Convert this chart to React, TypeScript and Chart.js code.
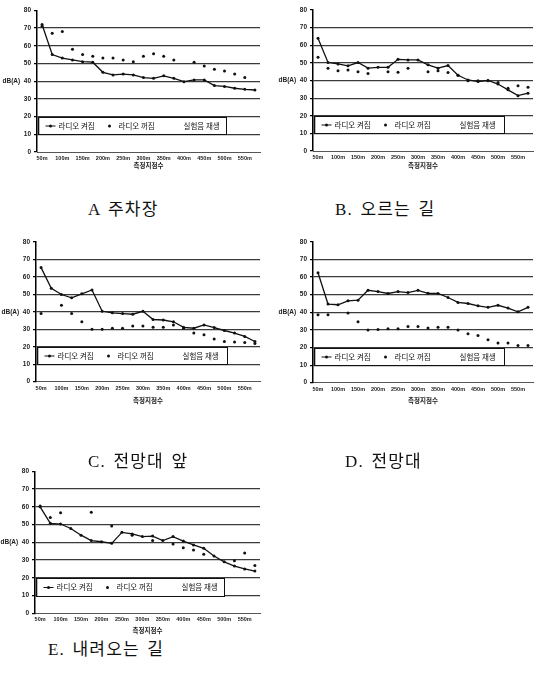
import React, { useEffect, useRef } from "react";
import { Chart, registerables } from "chart.js";
Chart.register(...registerables);

// ---- data ----
const xLabels = [
  "50m", "75m", "100m", "125m", "150m", "175m", "200m", "225m", "250m", "275m", "300m",
  "325m", "350m", "375m", "400m", "425m", "450m", "475m", "500m", "525m", "550m", "575m",
];
const yTickValues = [0, 10, 20, 30, 40, 50, 60, 70, 80];

const legendOn = "라디오 켜짐";
const legendOff = "라디오 꺼짐";
const legendThird = "실험음 재생";
const xTitle = "측정지점수";
const yTitle = "dB(A)";

const aOn = [72, 55, 53, 52, 51, 50.7, 45, 43.5, 44, 43.5, 42, 41.6, 43, 41.6, 39.7, 40.7, 40.7, 37.5, 37, 36, 35.4, 35];
const aOff = [71, 67, 68, 58, 55, 54, 53, 53, 52, 51, 54, 55.4, 54, 52, null, 50.7, 48.6, 46.7, 45.8, 44, 42, null];

const bOn = [64, 50.2, 49.4, 48.3, 50.2, 47, 47.5, 47.5, 52, 51.7, 51.7, 48.9, 47, 48.5, 43, 40.3, 39.4, 40, 38, 34.7, 31.4, 32.8];
const bOff = [53.2, 47, 45.6, 46, 45, 44, null, 45, 44.7, 47, null, 45, 45.5, 44.5, 43, 39.8, 39.8, 39.8, 38.8, 35.6, 37, 36.2];

const cOn = [65.3, 53.5, 49.9, 48, 50.3, 52.5, 40.3, 39.4, 39, 38.6, 40.3, 35.6, 35.3, 34.3, 31.1, 30.6, 32.5, 31, 29.3, 27.8, 25.9, 23];
const cOff = [39, null, 43.7, 39, 34.3, 30, 30, 30.6, 30.6, 31.9, 31.9, 31.1, 31.1, 32.5, 30.6, 27.8, 26.8, 24.4, 23, 22.7, 22.5, 21.8];

const dOn = [62.5, 44.7, 44.3, 46.5, 46.9, 52.5, 51.8, 50.7, 51.8, 51.2, 52.5, 50.8, 50.7, 48.4, 45.6, 45, 43.7, 42.8, 44, 42.4, 40.3, 42.8];
const dOff = [38.6, 38.6, null, 39.6, 34.7, 30, 30.2, 30.6, 30.6, 32, 32, 31.1, 31.5, 31.5, 30, 27.8, 26.8, 24.4, 22.5, 22.5, 21.2, 21.2];

const eOn = [60, 50.7, 50.3, 47.8, 44, 41, 40.3, 39.4, 45.6, 44.7, 43.2, 43.5, 41, 43.2, 40.7, 38.5, 36.6, 32.3, 29, 26.6, 25, 23.8];
const eOff = [60.4, 54, 56.7, null, null, 57, null, 49.2, null, 44, null, 41, null, 39, 37, 35.6, 33.2, null, null, 29.6, 34, 27];

const panelTitles = ["A 주차장", "B. 오르는 길", "C. 전망대 앞", "D. 전망대", "E. 내려오는 길"];

type Box = {
  left: number; top: number; w: number; h: number;
  axisX: number; right: number; y80: number; y0: number; legendW: number;
};

function Panel({ on, off, box }: { on: (number | null)[]; off: (number | null)[]; box: Box }) {
  const ref = useRef<HTMLCanvasElement>(null);
  useEffect(() => {
    const canvas = ref.current!;
    const legendPlugin = {
      id: "boxLegend",
      afterDraw(chart: any) {
        const { ctx, chartArea, scales } = chart;
        const y = scales.y;
        const top = Math.round(y.getPixelForValue(20)) + 0.5;
        const bot = Math.round(y.getPixelForValue(10)) + 0.5;
        const x0 = Math.round(chartArea.left) + 1.5;
        const w = box.legendW;
        const mid = (top + bot) / 2;
        ctx.save();
        ctx.fillStyle = "#fff";
        ctx.fillRect(x0, top, w, bot - top);
        ctx.strokeStyle = "#111";
        ctx.lineWidth = 1;
        ctx.strokeRect(x0, top, w, bot - top);
        ctx.lineWidth = 1.6;
        ctx.beginPath();
        ctx.moveTo(x0, top);
        ctx.lineTo(x0, bot);
        ctx.stroke();
        ctx.lineWidth = 1;
        ctx.beginPath();
        ctx.moveTo(x0 + 7, mid);
        ctx.lineTo(x0 + 17, mid);
        ctx.stroke();
        ctx.fillStyle = "#111";
        ctx.beginPath();
        ctx.arc(x0 + 12, mid, 1.5, 0, Math.PI * 2);
        ctx.fill();
        ctx.beginPath();
        ctx.arc(x0 + 71, mid, 1.5, 0, Math.PI * 2);
        ctx.fill();
        ctx.font = '7.5px "Noto Sans CJK KR"';
        ctx.textBaseline = "middle";
        ctx.textAlign = "left";
        ctx.fillText(legendOn, x0 + 20, mid);
        ctx.fillText(legendOff, x0 + 80, mid);
        ctx.fillText(legendThird, x0 + 145, mid);
        ctx.restore();
      },
    };
    const padBottom = 6;
    const xH = box.h - (box.y0 - box.top) - padBottom;
    const chart = new Chart(canvas, {
      type: "line",
      data: {
        labels: xLabels,
        datasets: [
          {
            label: legendOn,
            data: on,
            borderColor: "#111",
            backgroundColor: "#111",
            borderWidth: 1.3,
            pointRadius: 1.5,
            pointBorderWidth: 0,
            tension: 0,
          },
          {
            label: legendOff,
            data: off,
            showLine: false,
            borderColor: "#111",
            backgroundColor: "#111",
            pointRadius: 1.5,
            pointBorderWidth: 0,
          },
        ],
      } as any,
      options: {
        responsive: false,
        animation: false,
        events: [],
        layout: {
          padding: { left: 0, right: box.w - box.right, top: box.y80 - box.top, bottom: padBottom },
        },
        plugins: { legend: { display: false }, tooltip: { enabled: false } },
        scales: {
          x: {
            offset: true,
            grid: { display: false, drawTicks: false },
            border: { color: "#555", width: 1, dash: [5, 2] },
            ticks: {
              autoSkip: false,
              maxRotation: 0,
              minRotation: 0,
              padding: 3,
              color: "#222",
              font: { size: 5.5, weight: "bold", family: "Liberation Sans" },
              callback: (_v: any, i: number) => (i % 2 === 0 ? xLabels[i] : ""),
            },
            title: {
              display: true,
              text: xTitle,
              color: "#222",
              font: { size: 6.5, weight: "bold", family: "Noto Sans CJK KR" },
              padding: { top: 0, bottom: 0 },
            },
            afterFit: (s: any) => {
              s.height = xH;
            },
          },
          y: {
            min: 0,
            max: 80,
            afterBuildTicks: (s: any) => {
              s.ticks = yTickValues.map((v) => ({ value: v }));
            },
            ticks: {
              padding: 3,
              color: "#222",
              font: { size: 6.5, weight: "bold", family: "Liberation Sans" },
              callback: (v: any) => (v === 40 ? yTitle + "  40" : String(v)),
            },
            grid: {
              color: (c: any) => (c.tick && (c.tick.value === 80 || c.tick.value === 0) ? "rgba(0,0,0,0)" : "#3a3a3a"),
              lineWidth: 1.2,
              tickLength: 3,
              tickColor: "#000",
            },
            border: { color: "#000", width: 1.5 },
            afterFit: (s: any) => {
              s.width = box.axisX;
            },
          },
        },
      } as any,
      plugins: [legendPlugin],
    });
    return () => chart.destroy();
  }, []);
  return (
    <canvas
      ref={ref}
      width={box.w}
      height={box.h}
      style={{ position: "absolute", left: box.left, top: box.top, width: box.w, height: box.h }}
    />
  );
}

const boxes: Box[] = [
  { left: 0, top: 0, w: 270, h: 175, axisX: 37, right: 260, y80: 10.3, y0: 152, legendW: 188 },
  { left: 270, top: 0, w: 267, h: 175, axisX: 43, right: 267, y80: 10, y0: 151, legendW: 190 },
  { left: 0, top: 235, w: 270, h: 175, axisX: 36, right: 260, y80: 240.7, y0: 381.7, legendW: 190 },
  { left: 270, top: 235, w: 267, h: 175, axisX: 43, right: 267, y80: 240.5, y0: 382.7, legendW: 190 },
  { left: 0, top: 460, w: 270, h: 180, axisX: 35, right: 260, y80: 471.3, y0: 613.3, legendW: 188 },
];

const titlePos = [
  { left: 88, top: 200 },
  { left: 335, top: 200 },
  { left: 88, top: 452 },
  { left: 345, top: 452 },
  { left: 48, top: 640 },
];

export default function App() {
  const series: [(number | null)[], (number | null)[]][] = [
    [aOn, aOff],
    [bOn, bOff],
    [cOn, cOff],
    [dOn, dOff],
    [eOn, eOff],
  ];
  return (
    <div style={{ position: "fixed", left: 0, top: 0, width: 537, height: 674, background: "#fff", overflow: "hidden" }}>
      {series.map(([on, off], i) => (
        <Panel key={i} on={on} off={off} box={boxes[i]} />
      ))}
      {panelTitles.map((t, i) => (
        <div
          key={"t" + i}
          style={{
            position: "absolute",
            left: titlePos[i].left,
            top: titlePos[i].top,
            fontFamily: '"Liberation Serif", "Noto Sans CJK KR", serif',
            fontSize: 17,
            letterSpacing: "1.2px",
            wordSpacing: "2px",
            lineHeight: "20px",
            color: "#111",
            whiteSpace: "nowrap",
          }}
        >
          {t}
        </div>
      ))}
    </div>
  );
}
